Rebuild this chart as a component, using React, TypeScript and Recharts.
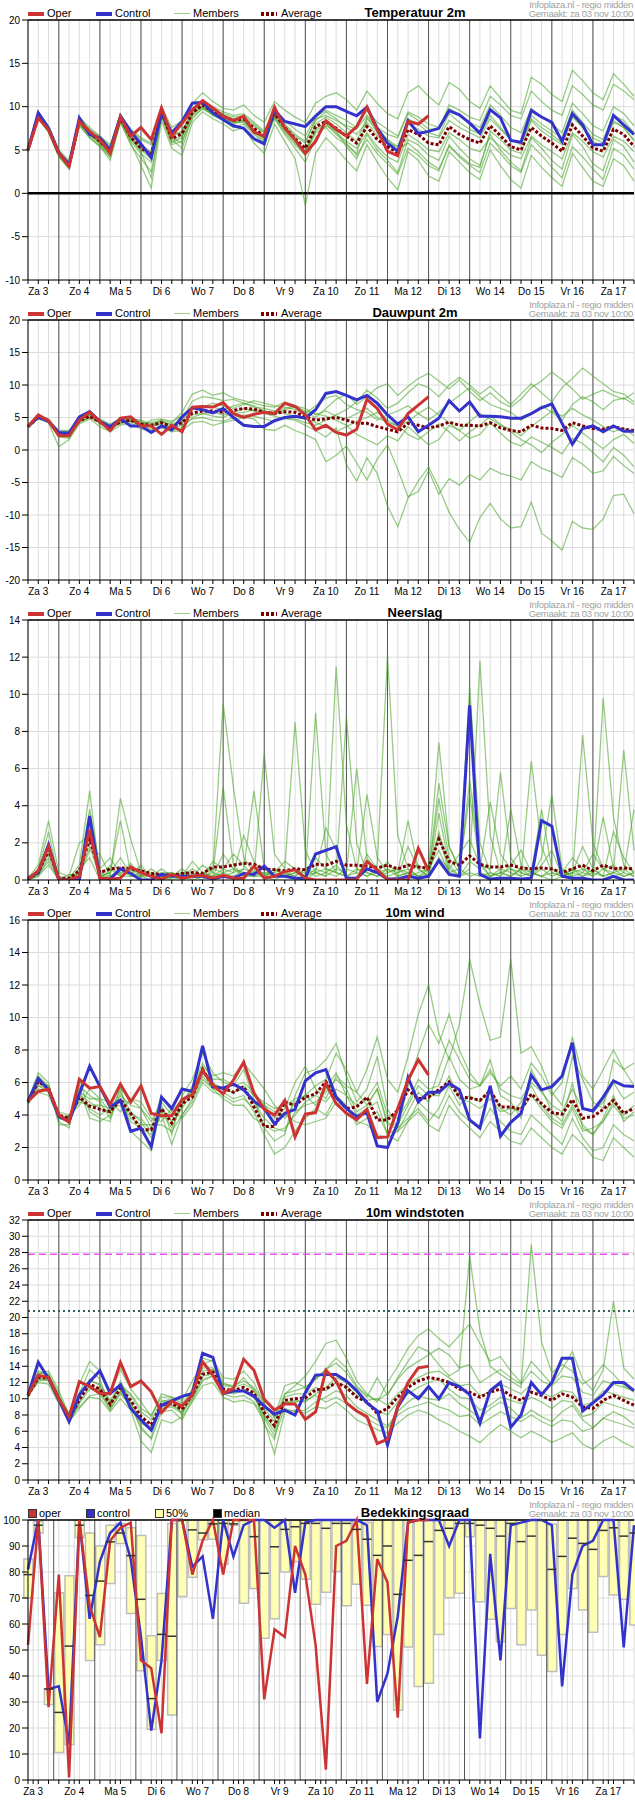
import React from 'react';
import { ComposedChart, Line, Bar, Scatter, XAxis, YAxis, CartesianGrid, ReferenceLine } from 'recharts';

const FONT = '"Liberation Sans", Arial, Helvetica, sans-serif';
const RED = '#cc3333';
const BLUE = '#3333cc';
const AVG = '#7a0000';
const MEMBER = '#44a222';

// ---- time axis (6-hourly steps starting Za 3 06:00) ----
const DAYS = ['Za 3', 'Zo 4', 'Ma 5', 'Di 6', 'Wo 7', 'Do 8', 'Vr 9', 'Za 10', 'Zo 11', 'Ma 12', 'Di 13', 'Wo 14', 'Do 15', 'Vr 16', 'Za 17'];
const SLOTS = Array.from({ length: 60 }, (_, i) => i);

// ---- Temperatuur 2m ----
const T_OPER = [5.0,8.7,7.35,4.65,3.1,8.3,7.15,6.2,4.65,8.8, 6.6,7.6,6.2,9.85,6.6,8.1,9.65,10.7,9.85,8.9, 8.4,8.9,7.05,6.6,9.95,7.5,6.2,4.6,6.0,8.4, 7.4,6.6,7.7,9.95,7.35,4.85,4.35,8.3,8.0,8.95];
const T_CONTROL = [5.0,9.3,7.5,4.7,3.3,8.7,6.8,6.4,5.0,8.9, 7.15,5.7,4.1,9.3,7.0,8.3,10.4,10.5,9.3,8.5, 7.8,7.5,6.3,5.7,9.6,8.3,8.0,7.7,8.9,10.0, 10.0,9.45,8.95,9.95,7.5,5.8,4.85,8.4,6.9,7.15, 7.5,9.55,9.05,8.1,6.95,9.65,8.7,6.1,5.9,9.55, 8.8,8.2,6.0,9.2,7.9,5.6,5.6,9.0,7.9,6.8];
const T_AVG = [5.0,9.0,7.4,4.6,3.3,8.3,7.0,6.0,4.9,8.7, 6.5,5.2,4.5,9.4,6.3,6.9,9.3,10.2,9.4,8.9, 8.4,8.6,7.5,6.6,9.2,7.6,6.3,5.2,7.7,8.3, 7.5,6.6,5.8,7.7,6.2,5.4,4.65,7.35,6.8,5.8, 5.6,7.7,6.8,6.2,5.8,7.8,6.65,5.4,5.0,7.6, 6.6,5.8,4.85,7.9,6.6,5.25,4.85,7.4,6.8,5.4];
const T_M1 = [4.8,8.6,7.0,4.2,2.8,7.9,6.4,5.4,4.2,8.2, 5.6,4.0,2.5,8.8,5.6,6.0,8.6,9.8,9.0,8.4, 7.6,8.0,6.8,5.8,8.6,6.8,5.2,3.6,6.4,7.8, 7.2,5.4,4.0,6.8,5.0,3.8,2.4,6.2,5.6,4.4, 3.8,6.6,5.2,4.0,3.2,6.8,5.0,3.6,2.6,6.4, 5.2,3.8,2.8,6.8,5.4,3.4,2.6,6.2,5.4,3.6];
const T_M2 = [5.1,9.4,7.8,5.0,3.8,8.8,7.6,6.6,5.4,9.2, 7.2,6.2,5.6,9.8,7.0,7.8,9.8,10.8,10.0,9.4, 9.0,9.2,8.2,7.2,9.8,8.4,7.4,6.6,8.8,9.6, 9.0,8.4,7.6,9.6,8.2,7.4,6.6,9.4,8.8,8.0, 7.6,9.8,9.0,8.2,7.6,10.2,9.0,7.6,7.0,9.8, 8.8,8.0,7.0,10.4,9.2,7.8,7.2,10.0,9.2,7.8];
const T_M3 = [5.0,8.8,7.2,4.4,3.0,8.0,6.8,5.8,4.6,8.4, 6.0,4.6,3.6,9.0,5.8,6.4,9.0,10.0,9.2,8.6, 8.2,8.2,7.0,6.0,8.8,7.0,5.6,4.4,7.0,7.6, 6.4,5.6,4.6,8.6,7.6,6.2,5.0,5.8,4.8,3.6, 2.8,5.4,4.4,3.4,3.0,7.2,6.2,5.0,4.6,8.6, 7.6,6.8,5.8,9.0,7.6,6.0,5.4,8.4,7.6,6.0];
const T_M4 = [5.0,9.2,7.6,4.8,3.4,8.5,7.2,6.2,5.0,8.9, 6.8,5.6,4.8,9.5,6.6,7.2,9.5,10.4,9.6,9.2, 8.8,9.0,8.0,7.0,9.6,8.0,6.8,6.0,8.4,9.4, 8.6,7.6,6.8,8.2,6.6,5.8,5.4,8.6,8.0,7.0, 6.6,9.2,8.2,7.4,6.8,9.0,7.6,6.2,5.6,9.0, 8.0,7.2,6.4,9.6,8.2,6.8,6.2,9.0,8.4,7.0];
const T_M5 = [4.9,8.8,7.3,4.5,3.1,8.1,6.6,5.6,4.4,8.5, 6.2,5.0,4.0,9.2,6.0,6.6,9.2,10.0,9.0,8.6, 8.0,8.4,7.2,6.2,8.8,7.2,5.8,4.8,7.2,8.0, 6.8,5.8,4.4,6.2,4.6,3.4,2.2,5.2,4.4,3.2, 2.6,5.6,4.2,3.2,2.4,5.8,4.6,3.2,2.4,5.6, 4.4,3.0,1.8,5.4,4.2,2.8,1.6,5.2,4.4,2.8];
const T_M6 = [5.0,9.1,7.5,4.7,3.5,8.4,7.1,6.1,5.2,8.8, 6.6,5.4,4.6,9.6,6.8,7.0,9.4,10.6,9.8,9.0, 8.6,8.8,7.8,7.0,9.4,7.8,6.6,5.8,8.6,9.0, 8.4,7.8,7.4,9.0,7.6,6.8,6.4,9.2,8.4,7.4, 7.4,10.2,9.6,8.8,8.4,11.2,10.2,9.0,8.6,11.8, 10.6,9.6,9.0,12.4,11.4,10.2,9.6,12.6,11.8,10.8];
const T_M7 = [5.0,8.9,7.2,4.4,3.2,8.2,6.8,5.8,4.2,8.6, 6.4,4.8,1.8,9.0,6.2,5.2,8.8,9.8,9.2,8.8, 8.2,8.4,7.0,6.4,9.0,7.4,6.0,4.4,7.4,8.2, 7.0,6.0,5.2,7.0,5.4,4.2,3.6,6.8,6.0,5.0, 4.8,7.0,6.2,5.2,4.8,6.4,5.4,4.4,4.0,6.6, 5.6,4.8,4.0,7.0,6.0,4.8,4.2,6.6,6.0,4.8];
const T_M8 = [5.0,9.0,7.4,4.6,3.3,8.3,6.9,5.9,4.8,8.7, 6.4,5.2,4.4,9.4,6.4,5.8,9.3,10.2,9.4,8.9, 8.4,8.6,7.4,6.4,9.2,7.6,6.2,4.8,8.0,8.8, 8.0,7.0,6.0,8.8,7.0,6.2,5.4,8.0,7.4,6.6, 6.4,8.4,7.6,7.0,6.4,8.6,7.4,6.2,5.8,8.4, 7.2,6.4,5.6,8.8,7.6,6.4,5.8,8.2,7.6,6.2];
const T_M9 = [5.0,9.4,7.6,4.8,3.6,8.6,7.4,6.6,5.6,9.0, 7.4,6.4,5.8,10.0,7.6,8.4,10.4,11.6,10.6,9.8, 9.6,10.2,9.0,8.2,10.6,9.6,8.8,8.2,10.4,11.2, 11.6,10.8,9.6,11.8,10.4,9.2,8.6,11.6,12.4,11.2, 10.2,12.8,12.0,10.6,9.8,12.4,11.0,9.6,9.2,13.4, 12.6,11.4,10.6,14.2,13.0,11.6,10.8,13.8,12.6,11.2];
const T_M10 = [4.9,8.7,7.1,4.3,2.9,7.8,6.4,5.4,3.8,8.2, 5.8,3.2,0.6,8.4,5.2,4.4,8.2,9.4,8.6,8.0, 7.2,7.6,5.8,4.6,8.0,6.0,4.0,-1.4,4.6,6.4, 5.2,3.8,2.6,5.6,3.6,1.8,0.4,4.8,3.8,2.0, 1.4,4.8,3.6,2.4,1.6,5.0,3.2,1.6,0.6,4.4, 3.0,1.8,0.8,4.6,3.0,1.4,0.8,4.0,3.2,1.4];

// ---- Dauwpunt 2m ----
const D_OPER = [3.6,5.4,4.5,2.2,2.2,4.6,5.8,4.4,3.0,4.9, 5.1,3.7,3.7,2.4,3.8,2.8,6.6,6.7,6.6,7.3, 5.6,5.0,5.5,5.8,5.6,7.2,6.7,5.4,3.1,3.8, 2.7,2.3,3.2,7.8,6.4,4.0,3.1,5.6,6.9,8.2];
const D_CONTROL = [3.6,5.1,4.4,2.7,2.6,5.1,5.9,4.4,3.6,4.8, 3.7,3.7,2.7,3.7,3.1,5.1,6.5,6.2,5.7,6.4, 5.0,3.8,3.6,3.6,4.5,5.0,5.2,4.9,6.2,8.7, 9.0,8.4,7.7,8.4,7.2,5.4,4.0,5.1,2.8,3.8, 4.9,7.6,6.0,7.4,5.2,5.2,5.1,4.9,4.9,5.6, 6.5,7.1,4.1,0.9,3.3,3.7,2.8,3.7,2.9,2.9];
const D_AVG = [3.6,5.0,4.5,2.5,2.5,4.5,5.2,4.3,3.5,4.3, 4.6,4.0,3.8,4.2,3.6,4.2,5.7,6.0,6.0,5.8, 6.1,6.4,6.3,5.8,5.6,5.9,5.8,5.1,4.6,4.8, 5.0,4.6,4.1,4.1,3.6,3.2,2.8,4.1,3.8,3.4, 3.7,4.3,3.8,3.8,3.7,4.2,3.4,3.0,2.8,3.8, 3.4,3.3,3.0,4.2,3.7,3.3,3.2,3.6,3.2,3.0];
const D_M1 = [3.5,5.3,4.8,2.0,1.8,4.8,5.6,4.0,3.2,4.6, 5.0,4.4,3.6,4.6,3.2,4.8,7.5,8.2,8.0,7.6, 7.8,7.2,6.8,6.0,5.4,6.2,6.6,5.8,5.0,6.4, 7.8,8.6,7.0,8.2,9.6,10.2,8.4,9.8,11.0,11.8, 10.6,9.4,10.8,9.0,7.6,8.8,7.4,6.6,7.8,9.6, 10.6,12.0,10.8,9.4,7.8,8.6,9.2,8.4,7.8,8.8];
const D_M2 = [3.7,4.8,4.2,0.5,1.6,4.0,4.8,3.6,2.8,3.8, 4.2,3.2,3.0,3.4,2.8,3.0,4.2,4.4,3.8,4.2, 4.6,5.0,4.8,3.2,3.0,3.8,3.0,2.4,1.6,-1.8, -0.8,0.6,-2.0,-4.6,-1.4,0.8,-3.0,-7.2,-6.4,-3.2, -6.8,-4.4,-5.4,-3.8,-4.6,-2.8,-3.6,-4.0,-4.6,-1.8, -2.8,-3.4,-4.2,-1.2,-2.2,-3.6,-3.2,-1.0,-2.4,-3.6];
const D_M3 = [3.6,5.1,4.6,2.6,2.4,4.6,5.4,4.6,3.8,4.4, 4.8,4.2,4.2,4.6,4.2,5.8,8.6,9.2,8.4,8.8, 8.0,7.6,7.2,6.8,6.6,7.4,6.8,6.0,5.6,5.2, 4.6,3.8,2.4,1.6,0.8,2.2,1.4,3.6,2.2,0.8, 1.6,3.8,3.0,1.8,2.4,4.2,2.6,1.2,0.6,2.0, 1.2,0.4,-0.6,1.8,1.0,-0.4,-1.8,0.4,-0.8,-2.6];
const D_M4 = [3.6,4.9,4.4,2.8,2.9,4.4,5.0,4.8,4.0,4.8, 4.4,3.8,4.6,4.8,4.4,5.2,6.4,6.6,7.2,6.8, 6.4,7.0,7.6,7.2,6.8,6.6,6.2,5.6,6.8,8.0, 8.4,7.0,6.2,5.8,4.6,5.4,6.0,6.8,5.6,4.6, 5.8,7.2,8.4,9.6,8.2,7.0,6.4,5.8,4.6,5.6, 6.8,5.8,4.6,7.0,8.2,7.4,6.2,7.6,8.0,7.0];
const D_M5 = [3.4,5.2,4.3,2.2,2.0,4.2,5.0,4.2,3.4,4.0, 4.6,3.6,3.2,3.6,3.0,3.4,5.0,5.6,5.2,5.0, 5.8,6.4,6.0,5.6,5.2,4.8,4.6,3.8,3.0,2.0, 3.4,-2.2,-4.8,-1.2,-3.6,-8.6,-11.8,-7.4,-4.8,-2.6, -5.8,-9.6,-12.2,-14.2,-10.4,-8.2,-10.6,-12.0,-11.8,-8.0, -12.8,-14.0,-15.4,-11.0,-12.0,-12.2,-10.6,-7.0,-6.8,-9.8];
const D_M6 = [3.7,5.0,4.6,3.0,3.0,5.0,5.8,4.4,3.6,4.6, 4.4,4.0,3.8,4.2,4.0,4.6,6.2,6.8,6.6,6.2, 6.8,7.2,6.6,6.4,6.0,5.6,5.2,4.8,4.2,3.6, 2.8,3.6,4.4,5.0,5.8,4.6,3.6,4.4,5.6,6.6, 5.4,4.2,3.0,4.4,5.6,4.8,3.8,3.2,2.2,3.6, 4.8,6.0,5.2,6.4,5.4,4.6,3.6,2.8,3.4,2.2];
const D_M7 = [3.6,4.9,4.5,2.4,2.6,4.7,5.3,4.2,3.2,4.2, 4.8,4.6,4.0,4.4,3.8,4.2,5.4,5.6,5.8,5.4, 5.6,5.8,6.2,6.0,5.8,6.4,6.8,6.4,5.4,6.0, 5.2,4.8,5.6,6.4,5.0,4.2,3.8,2.4,1.6,2.8, 4.0,2.8,1.4,2.8,3.8,5.2,4.0,2.8,1.6,0.8, -0.4,1.2,2.4,3.8,2.6,1.4,0.2,1.6,2.4,1.0];
const D_M8 = [3.5,5.0,4.4,2.6,2.2,4.4,5.1,4.4,3.6,4.2, 4.4,4.0,3.6,4.0,3.4,3.8,4.8,5.0,4.6,4.4, 5.0,5.4,5.2,4.8,4.4,5.0,4.8,4.2,3.8,4.6, 5.4,6.2,7.4,9.2,8.0,6.4,7.2,8.8,10.2,9.6, 8.2,10.0,11.2,10.0,8.6,9.8,8.4,7.0,8.6,10.2, 8.8,7.4,9.6,11.0,12.6,11.4,10.2,9.0,8.6,7.4];

// ---- Neerslag ----
const P_OPER = [0.05,0.5,1.8,0,0,0.2,2.7,0.1,0.05,0.1, 0.7,0.4,0.2,0.05,0.3,0.1,0.2,0.25,0.1,0.25, 0.1,0.1,0.75,0.1,0.2,0.45,0.55,0.1,0,0, 0,0,0,1.0,0.55,0,0,0,1.7,0.5];
const P_CONTROL = [0.1,0.4,1.9,0,0,0,3.45,0.1,0.05,0.6, 0.35,0,0,0.3,0.2,0.2,0.2,0.2,0.05,0.2, 0.1,0.35,0.3,0.75,0.2,0.2,0.1,0.1,1.4,1.6, 1.8,0.1,0.1,0.6,0.4,0.05,0.05,0.2,0.1,0.2, 1.05,0.3,0.2,9.4,0.3,0.05,0.1,0.1,0.05,0.1, 3.2,2.9,0.2,0.1,0.1,0,0,0.2,0,0];
const P_AVG = [0.05,0.4,1.6,0.1,0.1,0.5,2.2,0.4,0.6,0.65, 0.6,0.5,0.35,0.3,0.25,0.35,0.4,0.35,0.7,0.7, 0.8,0.9,0.85,0.6,0.55,0.5,0.6,0.55,0.85,0.8, 1.0,0.8,0.8,0.75,0.65,0.8,0.6,0.8,0.7,0.65, 2.2,1.0,0.8,1.3,0.85,0.7,0.7,0.8,0.65,0.6, 0.65,0.6,0.4,0.6,0.8,0.5,0.8,0.6,0.65,0.6];
const P_M1 = [0,0.6,2.6,0,0.1,0.8,4.8,0.2,0.4,1.2, 0.3,0.8,0.1,0,0.1,0.4,0.2,0,0.6,9.5, 5.0,1.2,0.4,0.2,0,0.3,0.1,0,0.4,2.8, 1.6,0.2,0,1.4,0.6,0,0.2,0.4,0,0.3, 5.2,1.8,0.6,10.4,2.0,0.4,0.2,0.8,1.6,0.4, 0.2,0,0.2,0.4,1.8,0.6,0.2,2.6,1.2,0.4];
const P_M2 = [0.1,0.3,1.4,0.2,0,0.4,3.8,0.6,1.2,0.3, 0.9,0.2,0.6,0.2,0,0.2,1.0,0.4,0.2,0.6, 1.4,0.8,0.2,6.8,1.4,0.6,8.5,1.6,0.4,0.2, 11.5,3.0,0.6,0.2,0.4,1.0,0.2,1.8,0.6,0.2, 3.6,0.8,0.2,0.6,11.8,2.4,0.4,0.2,0.6,0.2, 0.8,1.6,0.2,0.4,0.6,0.2,9.8,3.4,0.8,0.4];
const P_M3 = [0,0.2,1.2,0,0.3,0.2,1.6,1.4,0.2,4.4, 2.2,0.4,0.2,0.6,0.2,0,0.2,0.8,0.4,0.2, 0.4,2.4,1.0,0.2,0.6,0.2,0.4,0.2,9.0,1.4, 0.4,0.2,0,0.6,0.8,12.1,2.4,0.6,0.2,0.4, 2.6,0.6,1.4,2.2,0.8,0.6,5.8,1.2,0.4,0.2, 1.2,4.6,0.6,0.2,7.8,2.0,0.6,0.2,0.4,3.8];
const P_M4 = [0,0.5,2.0,0,0,0.6,1.2,0,0.6,0.2, 0.4,0.6,0.2,0.4,0.4,0.2,0.6,0.2,1.0,0.6, 0.4,0.6,4.8,0.6,0.2,0.4,0.2,0.6,0.4,0.2, 0.6,0.4,6.0,1.2,0.4,0.6,0.2,0.4,0.8,0.4, 4.4,1.2,0.4,5.4,1.0,0.2,0.6,0.4,0.2,6.4, 1.8,0.4,0.2,0.6,0.4,0.2,0.6,0.8,0.4,0.2];
const P_M5 = [0.1,0.8,3.2,0.4,0.2,2.0,2.4,0.4,0.2,0.6, 0.2,0.2,0.4,0.2,0.2,0.6,0.2,0.4,0.2,1.4, 0.6,0.2,0.4,0.2,0.4,1.0,0.6,0.2,0.6,0.4, 0.2,0.6,0.4,4.6,1.2,0.4,0.6,0.2,0.4,0.6, 1.6,0.4,0.2,1.0,0.6,4.2,1.4,0.6,0.4,0.2, 0.6,0.2,0.4,1.2,0.6,0.4,3.4,0.6,0.2,0.4];
const P_M6 = [0,0.2,0.8,0,0.1,0.2,3.0,0.2,0.2,0.4, 0.6,0.2,0,0.2,0.4,0.2,0.1,0.4,0.6,0.4, 0.2,0.6,0.4,0.4,0.2,0.2,0.4,0.4,1.2,0.6, 0.4,8.8,2.0,0.4,0.2,0.4,0.6,0.4,0.2,0.2, 1.2,0.6,0.2,0.4,0.2,0.4,0.2,3.8,0.8,0.4, 0.2,0.6,0.4,0.2,0.4,1.4,0.6,0.4,7.0,1.6];
const P_M7 = [0,0.4,1.8,0.2,0,0.3,1.8,0.2,0.8,0.2, 0.2,0.4,0.2,0.2,0.2,0.4,0.4,0.2,0.2,0.4, 0.6,0.4,0.2,0.2,0.6,0.4,0.2,0.6,0.2,0.4, 0.8,0.2,0.4,0.2,0.6,0.2,0.4,0.6,0.2,0.6, 7.4,1.8,0.6,0.2,0.4,0.2,0.4,0.6,0.2,0.4, 0.2,0.4,0.2,0.6,0.2,0.4,0.2,0.4,0.6,0.2];
const P_M8 = [0,0.3,1.0,0,0.1,0.4,2.6,0.2,0.4,3.2, 0.4,0.2,0.2,0,0.2,0.2,0,0.2,0.4,5.0, 0.8,0.2,0.2,0.4,0.4,0.2,0.6,0.2,0.4,0.6, 0.4,0.2,0.6,0.4,0.2,0.6,0.4,3.2,0.6,0.2, 2.4,0.4,0.6,4.6,0.8,0.2,0.4,0.2,0.6,0.4, 3.8,0.6,0.2,0.4,0.2,0.6,0.2,0.4,0.2,0.4];

// ---- 10m wind ----
const W_OPER = [4.85,5.45,5.6,4.0,3.55,6.2,5.65,5.75,4.65,5.9, 4.8,5.8,4.1,3.95,3.95,4.95,5.25,6.75,5.85,5.3, 6.15,7.25,5.35,4.35,4.0,4.9,2.65,4.05,4.15,5.95, 4.7,4.1,3.7,4.35,2.6,2.65,4.4,6.15,7.4,6.45];
const W_CONTROL = [4.85,6.25,5.55,3.9,3.6,5.3,7.0,5.75,4.5,4.9, 3.0,3.2,2.05,5.1,4.4,5.6,5.45,8.25,5.75,5.65, 5.9,5.55,4.85,4.4,3.45,4.1,4.35,6.1,6.6,6.8, 5.1,4.4,3.9,4.15,2.1,2.0,3.5,6.3,4.8,5.4, 5.4,5.95,5.55,3.7,3.2,5.8,2.7,3.55,4.1,6.45, 5.55,5.75,6.4,8.45,4.4,4.25,5.1,6.1,5.8,5.75];
const W_AVG = [4.8,6.05,5.65,4.0,3.8,5.1,4.55,4.35,4.2,4.95, 4.1,3.1,3.1,4.4,3.5,4.7,5.1,6.8,5.75,5.65, 5.4,5.75,4.5,3.3,3.3,4.8,4.6,5.1,5.3,6.05, 5.1,4.4,4.5,5.1,3.7,3.7,4.3,5.55,5.0,5.1, 5.55,6.05,5.1,5.05,4.9,5.5,4.5,4.5,4.35,5.3, 4.7,4.15,4.05,4.95,3.8,3.9,4.35,4.9,4.1,4.4];
const W_M1 = [4.8,6.4,5.8,3.6,3.2,6.2,4.2,3.8,3.6,5.8, 3.0,2.4,1.8,4.6,2.8,5.2,6.2,7.8,6.6,6.0, 5.8,6.8,5.0,3.2,2.4,2.8,5.2,6.6,6.8,7.4, 8.4,6.4,4.8,5.6,7.6,4.4,3.2,5.8,7.8,9.6, 8.4,10.2,8.0,6.6,5.8,7.4,5.2,4.8,3.8,6.8, 5.6,4.2,3.6,6.0,3.2,2.8,3.8,5.2,3.6,4.2];
const W_M2 = [4.7,5.6,5.4,4.2,4.0,4.6,5.6,5.0,4.8,4.2, 5.0,4.8,3.8,3.6,4.4,3.8,4.6,6.0,5.4,5.2, 4.8,5.0,4.4,4.6,4.2,4.0,3.6,3.4,3.6,3.8, 4.8,4.4,3.6,3.4,2.8,2.6,3.0,3.6,4.2,3.4, 3.0,4.6,3.8,3.2,2.6,3.6,3.0,2.4,2.2,3.2, 2.6,2.0,1.6,2.8,2.2,1.4,1.2,2.6,2.0,1.4];
const W_M3 = [4.9,6.0,5.8,3.8,3.8,5.8,5.2,4.8,3.8,5.4, 4.2,3.6,2.6,4.2,3.2,4.6,5.8,7.2,6.2,6.2, 5.8,6.0,5.4,4.6,3.8,4.4,6.0,7.0,5.6,5.0, 6.4,5.8,5.4,6.8,8.8,6.2,5.4,7.6,10.2,12.0, 9.0,7.4,9.6,13.6,10.8,8.6,8.8,13.6,7.8,8.2, 7.0,5.4,4.6,7.6,6.2,4.8,4.4,7.4,6.8,5.8];
const W_M4 = [4.8,5.8,5.4,4.0,3.6,5.0,4.4,4.0,4.4,4.6, 3.6,3.2,2.8,4.0,2.2,4.0,5.0,6.4,5.6,5.4, 5.0,5.2,4.2,2.8,1.6,2.0,3.0,3.8,4.4,4.0, 5.2,4.6,3.4,3.8,4.2,2.8,2.4,3.6,4.8,4.2, 3.8,5.2,4.2,3.6,3.2,4.4,3.6,3.0,2.8,4.0, 3.4,2.8,2.2,3.8,2.6,1.8,2.0,3.4,2.8,2.4];
const W_M5 = [4.9,6.6,6.0,3.4,3.4,5.6,3.8,3.6,4.0,5.2, 4.6,4.4,3.6,4.8,4.0,4.8,5.6,7.0,6.4,6.6, 6.4,7.2,6.4,5.6,4.6,3.8,4.8,5.2,5.8,6.2, 7.8,6.8,5.4,4.6,5.6,3.6,3.0,4.2,5.4,4.8, 6.8,8.6,7.4,6.2,5.8,6.6,5.8,6.4,5.6,7.2, 6.4,5.2,6.0,8.8,6.4,5.6,6.8,8.0,6.8,7.2];
const W_M6 = [4.8,5.4,5.2,3.8,4.0,4.8,4.6,4.6,4.4,4.8, 3.8,3.4,3.4,3.4,3.0,4.0,4.8,6.2,5.6,5.0, 4.6,4.6,3.8,3.4,3.0,3.2,4.0,4.8,5.2,4.8, 5.6,5.2,4.0,4.4,4.8,2.8,3.2,3.8,4.4,3.6, 4.4,5.8,4.6,5.2,4.8,5.6,4.4,4.0,4.8,5.8, 4.6,3.8,3.4,4.6,3.4,2.8,3.6,4.8,4.0,4.6];
const W_M7 = [4.7,5.8,5.6,4.0,3.8,5.4,5.0,5.0,4.2,5.6, 5.0,4.4,3.2,5.2,4.2,5.0,5.4,6.8,6.0,5.6, 5.4,5.8,5.2,4.8,4.4,4.6,5.0,5.2,4.6,5.6, 6.6,5.2,4.6,5.0,6.0,4.0,3.8,4.8,6.2,5.6, 5.8,7.6,6.2,5.6,5.8,6.8,5.6,5.2,5.0,6.0, 5.4,4.6,4.2,5.6,4.4,4.2,4.8,6.0,5.0,5.4];
const W_M8 = [4.8,6.0,5.6,3.8,3.6,5.2,4.8,4.4,4.2,5.0, 4.0,3.8,3.0,4.4,3.6,4.4,5.4,6.6,5.8,5.6, 5.4,5.6,4.8,3.8,3.2,3.0,4.2,4.6,4.8,5.4, 6.2,5.6,4.2,4.6,5.6,3.4,3.4,4.6,5.8,5.2, 5.2,6.4,5.0,4.8,4.4,5.0,4.2,4.4,4.2,5.2, 4.4,3.6,3.2,4.4,3.0,3.2,3.6,4.6,3.8,4.0];

// ---- 10m windstoten ----
const G_OPER = [10.45,12.9,12.6,10.0,7.8,12.1,11.5,10.65,10.65,14.45, 11.5,12.2,10.85,8.3,9.7,9.1,10.45,14.55,12.9,10.65, 11.25,14.85,13.5,9.95,8.6,9.35,9.35,7.45,8.4,13.5, 12.2,9.5,8.5,7.8,4.5,5.0,9.0,12.0,13.8,14.0];
const G_CONTROL = [10.45,14.5,12.5,9.85,7.2,10.45,12.1,13.45,10.65,11.7, 8.8,7.4,6.15,9.2,9.75,10.3,10.65,15.6,15.1,10.65, 10.95,10.95,10.3,9.1,8.1,8.6,8.0,10.75,12.9,13.0, 13.0,12.2,11.0,9.5,8.5,4.3,9.0,11.0,10.0,11.5, 10.0,12.0,11.5,10.5,7.0,11.0,12.0,6.5,8.0,12.0, 10.5,12.0,15.0,15.0,8.5,9.5,10.5,12.0,12.0,11.0];
const G_AVG = [10.4,12.6,12.6,10.0,7.5,9.9,11.8,11.2,9.3,11.3, 9.8,7.8,6.8,9.3,9.4,8.7,10.5,13.0,13.3,11.2, 11.0,11.4,10.7,8.3,6.7,9.8,10.0,10.1,11.1,11.2, 12.0,11.4,10.2,9.6,8.2,8.8,10.2,11.4,12.2,12.6, 12.4,12.0,11.2,10.8,10.2,10.8,11.2,10.4,9.8,10.8, 10.4,9.8,10.6,10.2,9.0,8.8,9.8,10.4,9.8,9.2];
const G_M1 = [10.2,13.4,13.0,10.6,7.0,10.6,13.6,12.4,9.0,12.2, 9.4,6.2,5.2,9.6,10.0,8.0,11.4,15.0,14.6,12.0, 11.4,12.6,11.0,6.8,5.0,10.6,11.6,12.8,14.6,16.8, 17.2,15.0,12.2,10.6,9.6,12.0,14.0,16.2,17.8,18.6, 17.4,16.4,17.8,19.2,16.8,14.6,15.2,13.4,12.0,14.6, 13.2,11.8,13.6,15.8,12.4,11.0,13.6,22.0,13.8,12.4];
const G_M2 = [10.6,12.0,11.8,9.4,8.2,9.0,10.2,10.0,8.4,10.0, 8.6,4.8,3.4,7.4,7.0,7.8,9.6,11.6,12.0,10.2, 9.6,9.8,9.4,7.2,3.2,8.4,8.6,8.2,9.0,8.8, 9.6,8.6,7.4,6.8,6.2,5.8,7.0,8.0,8.6,8.2, 7.4,6.8,6.0,5.4,4.6,5.8,6.8,6.0,5.2,6.0, 5.4,4.6,5.2,5.8,4.4,3.8,4.8,5.4,4.6,4.0];
const G_M3 = [10.4,13.0,13.4,11.0,8.0,11.8,14.6,13.4,10.6,13.6, 11.2,9.6,7.8,10.6,10.2,9.8,12.2,14.2,14.8,12.6, 12.4,13.4,12.0,9.4,7.8,11.6,12.0,11.4,12.4,13.6, 14.4,13.2,11.4,10.2,12.6,10.4,12.6,14.6,16.4,15.8, 14.2,12.8,13.6,27.6,18.4,14.0,13.0,12.2,11.4,29.0, 17.0,13.2,14.2,13.4,11.8,12.6,14.2,13.0,11.6,10.8];
const G_M4 = [10.3,12.2,12.4,9.8,7.2,8.8,10.4,10.6,8.6,10.8, 9.0,6.6,5.0,8.4,8.6,7.4,9.8,12.2,12.8,10.6, 10.2,10.4,9.6,7.6,5.4,8.8,8.4,8.6,9.6,10.2, 11.0,10.4,9.0,8.2,7.4,6.6,8.4,9.6,10.4,10.0, 9.8,10.6,9.4,8.6,7.6,8.8,9.6,8.8,7.6,8.6, 7.8,7.2,8.4,9.2,7.4,6.4,7.6,8.4,7.8,6.8];
const G_M5 = [10.5,12.8,12.8,10.2,7.6,10.4,12.4,11.6,9.6,11.6, 10.4,8.4,7.4,9.8,9.6,9.0,10.8,13.4,13.6,11.6, 11.4,11.8,11.2,8.8,7.2,10.2,10.6,10.6,11.4,11.0, 12.0,11.6,10.4,9.8,10.0,9.2,10.6,11.8,12.6,13.2, 13.4,12.6,11.6,11.8,10.4,10.8,11.8,11.2,10.6,11.8, 10.8,10.2,11.0,10.8,9.2,9.6,11.0,10.6,10.2,9.8];
const G_M6 = [10.2,12.4,12.2,9.6,7.0,9.4,11.2,10.8,8.8,10.6, 9.2,7.0,6.2,8.8,9.0,8.2,10.0,12.4,12.8,10.8, 10.6,11.0,10.2,7.8,6.0,9.4,9.8,9.6,10.6,11.4, 12.6,12.0,10.8,9.4,8.6,8.0,9.6,10.6,11.4,12.0, 12.4,11.2,10.2,10.0,8.6,9.2,10.2,9.8,9.4,10.2, 9.6,8.8,9.8,9.6,7.8,8.2,9.6,9.2,8.8,8.4];
const G_M7 = [10.6,13.2,13.0,10.4,8.2,10.8,12.2,11.8,9.8,11.8, 10.6,8.8,8.0,10.2,10.2,9.4,11.0,13.8,13.8,11.8, 11.6,12.2,11.4,9.4,7.6,10.6,11.0,11.4,12.4,13.6, 15.0,13.8,11.6,10.4,9.8,10.6,12.4,13.8,14.6,15.4, 16.2,15.4,13.8,14.2,12.0,12.8,13.6,12.6,11.8,13.4, 12.2,11.6,12.8,12.6,10.8,10.4,12.2,11.8,11.4,11.0];
const G_M8 = [10.4,12.6,12.4,9.8,7.4,9.6,11.6,11.0,9.2,11.0, 9.6,7.4,6.4,9.0,9.2,8.4,10.2,12.8,13.0,11.0, 10.8,11.2,10.4,8.0,6.4,9.6,9.6,9.8,10.4,9.6, 10.2,9.4,8.4,7.6,6.8,6.4,8.0,8.8,9.2,9.6, 9.0,8.6,7.8,8.0,6.8,7.6,8.4,7.8,7.2,8.0, 7.2,6.6,7.4,7.2,6.0,6.4,7.6,7.2,6.8,6.4];
const GUST_HIGH = 27.8;
const GUST_LOW = 20.8;

// ---- Bedekkingsgraad ----
const C_LOW = [70,95,29,10.6,13.7,93.3,46,52,75.6,91, 64,42,19.5,46,25,70.6,78,92.4,92.6,83, 98,68,73.7,54.5,62,80,84,77.2,67.6,72.2, 80.2,67,75.3,67.2,51.3,56,26.8,51.2,36,37.2, 56,70.1,71.8,93.6,68.6,61.8,53.2,66,52,65.4, 48,41.7,56,73.7,65.4,56.8,78.3,71.2,69.5,59.6];
const C_HIGH = [85,99.4,35,72,78.6,100,95,90,98,98.7, 97,94,55.5,71.7,98.7,100,100,100,100,100, 100,100,100,100,100,100,100,100,100,100, 100,100,100,99,100,100,100,100,100,100, 100,100,100,100,100,100,100,100,100,100, 100,98.5,100,100,100,100,100,100,100,100];
const C_MEDIAN = [79,98,35,26,51.5,98,71,76.5,91.6,95, 86.3,69.5,31.3,56,55.3,100,96.2,95,98.5,98.7, 98.5,100,93.6,79.5,89.7,96.4,97.4,98.7,98.7,96.8, 98.7,98.7,96.4,92.6,86.4,90,71.4,84.5,86.4,91.7, 96,96.8,98.7,98.7,98,96.8,93.8,98.7,91.7,93.8, 100,81,86,93,91,88.7,96,97,93.8,95];
const C_OPER = [52,100,28,79,1,100,67,55,92,97, 99,46,43,18,100,100,79,92,100,79, 100,100,100,31,58,55,90,79,52,4, 90,92,100,37,85,76,24,99,100,100];
const C_CONTROL = [81,100,35,36,14,100,62,84,95,99, 85,55,19,46,100,100,82,86,62,100, 86,98,100,100,97,100,72,99,100,100, 100,100,100,98,30,41,63,99,100,100, 100,90,100,100,16,87,46,98,99,100, 100,98,36,79,90,92,100,100,51,98];

const LINE_DAY_LINES = DAYS.slice(1).map((_, k) => 3 + 4 * k);
const CLOUD_DAY_LINES = DAYS.slice(1).map((_, k) => 2.5 + 4 * k);

const lineTickLabel = (v: number) => ((v - 1) % 4 === 0 ? DAYS[(v - 1) / 4] ?? '' : '');
const cloudTicks = [...SLOTS, ...DAYS.map((_, k) => 0.5 + 4 * k)].sort((a, b) => a - b);
const cloudTickLabel = (v: number) => (Number.isInteger(v) ? '' : DAYS[(v - 0.5) / 4] ?? '');

const AX_TICK = { fontSize: 10, fill: '#000', fontFamily: FONT };
const txt: React.CSSProperties = { position: 'absolute', top: 6, fontSize: 11, lineHeight: '14px', fontFamily: FONT, color: '#000', whiteSpace: 'nowrap' };
const info: React.CSSProperties = { position: 'absolute', right: 2, fontFamily: FONT, fontSize: 9.5, lineHeight: '10px', letterSpacing: -0.3, color: '#a0a0a0', whiteSpace: 'nowrap' };

function Header({ title }: { title: string }) {
  return (
    <>
      <div style={{ position: 'absolute', left: 315, width: 200, top: 5, textAlign: 'center', fontFamily: FONT, fontWeight: 'bold', fontSize: 13, lineHeight: '16px', color: '#000' }}>{title}</div>
      <div style={{ ...info, top: 0 }}>Infoplaza.nl - regio midden</div>
      <div style={{ ...info, top: 9 }}>Gemaakt: za 03 nov 10:00</div>
    </>
  );
}

function LineLegend({ title }: { title: string }) {
  return (
    <>
      <div style={{ position: 'absolute', left: 28, top: 12, width: 16, height: 4, background: RED }} />
      <span style={{ ...txt, left: 47 }}>Oper</span>
      <div style={{ position: 'absolute', left: 96, top: 12, width: 16, height: 4, background: BLUE }} />
      <span style={{ ...txt, left: 115 }}>Control</span>
      <div style={{ position: 'absolute', left: 174, top: 13, width: 16, height: 1, background: '#9ccf86' }} />
      <span style={{ ...txt, left: 193 }}>Members</span>
      <div style={{ position: 'absolute', left: 261, top: 12, width: 16, height: 4, backgroundImage: `repeating-linear-gradient(90deg, ${AVG} 0 3px, transparent 3px 5px)` }} />
      <span style={{ ...txt, left: 281 }}>Average</span>
      <Header title={title} />
    </>
  );
}

type Threshold = { y: number; color: string; dash: string; width: number };

function LinePanel(props: {
  top: number; title: string; yMin: number; yMax: number; yStep: number;
  oper: number[]; control: number[]; avg: number[]; members: number[][];
  zeroLine?: boolean; thresholds?: Threshold[];
}) {
  const { top, title, yMin, yMax, yStep, oper, control, avg, members, zeroLine, thresholds } = props;
  const rows = SLOTS.map((i) => {
    const r: Record<string, number | null> = { i, oper: oper[i] ?? null, control: control[i] ?? null, avg: avg[i] ?? null };
    members.forEach((m, k) => { r['m' + k] = m[i] ?? null; });
    return r;
  });
  const yTicks: number[] = [];
  for (let v = yMin; v <= yMax; v += yStep) yTicks.push(v);
  return (
    <div style={{ position: 'absolute', left: 0, top, width: 635, height: 300 }}>
      <ComposedChart width={635} height={300} data={rows} margin={{ top: 20, right: 1, bottom: 0, left: 0 }}>
        <CartesianGrid stroke="#dcdcdc" />
        <XAxis dataKey="i" type="number" domain={[0, 59]} ticks={SLOTS} interval={0} tickFormatter={lineTickLabel}
          tickSize={4} tickMargin={4} height={20} tick={AX_TICK} stroke="#000" />
        <YAxis type="number" domain={[yMin, yMax]} ticks={yTicks} interval={0} width={28} tickSize={6}
          tick={AX_TICK} stroke="#000" allowDataOverflow />
        {LINE_DAY_LINES.map((x) => <ReferenceLine key={'d' + x} x={x} stroke="#555" strokeWidth={1} />)}
        <ReferenceLine y={yMax} stroke="#000" strokeWidth={1.5} />
        {zeroLine && <ReferenceLine y={0} stroke="#000" strokeWidth={2.5} />}
        {(thresholds || []).map((t) => (
          <ReferenceLine key={'t' + t.y} y={t.y} stroke={t.color} strokeDasharray={t.dash} strokeWidth={t.width} />
        ))}
        {members.map((_, k) => (
          <Line key={'m' + k} dataKey={'m' + k} type="linear" stroke={MEMBER} strokeOpacity={0.55} strokeWidth={1.3}
            dot={false} activeDot={false} isAnimationActive={false} />
        ))}
        <Line dataKey="avg" type="linear" stroke={AVG} strokeWidth={3} strokeDasharray="3 2" dot={false} activeDot={false} isAnimationActive={false} />
        <Line dataKey="control" type="linear" stroke={BLUE} strokeWidth={3} dot={false} activeDot={false} isAnimationActive={false} />
        <Line dataKey="oper" type="linear" stroke={RED} strokeWidth={3} dot={false} activeDot={false} isAnimationActive={false} />
      </ComposedChart>
      <LineLegend title={title} />
    </div>
  );
}

const MedianTick = (p: any) => {
  if (p.cx == null || p.cy == null) return <g />;
  return <line x1={p.cx - 4.5} x2={p.cx + 4.5} y1={p.cy} y2={p.cy} stroke="#333" strokeWidth={1.5} />;
};

function CloudPanel({ top }: { top: number }) {
  const rows = SLOTS.map((i) => ({
    i,
    range: [C_LOW[i], C_HIGH[i]],
    median: C_MEDIAN[i],
    oper: C_OPER[i] ?? null,
    control: C_CONTROL[i] ?? null,
  }));
  const yTicks = [0, 10, 20, 30, 40, 50, 60, 70, 80, 90, 100];
  const sq = (left: number, color: string): React.CSSProperties => ({ position: 'absolute', left, top: 9, width: 7, height: 7, background: color, border: '1px solid #333' });
  return (
    <div style={{ position: 'absolute', left: 0, top, width: 635, height: 300 }}>
      <ComposedChart width={635} height={300} data={rows} margin={{ top: 20, right: 1, bottom: 0, left: 0 }}>
        <CartesianGrid stroke="#dcdcdc" />
        <XAxis dataKey="i" type="number" domain={[0, 59]} ticks={cloudTicks} interval={0} tickFormatter={cloudTickLabel}
          tickSize={4} tickMargin={4} height={20} tick={AX_TICK} stroke="#000" />
        <YAxis type="number" domain={[0, 100]} ticks={yTicks} interval={0} width={28} tickSize={6} tick={AX_TICK} stroke="#000" />
        <Bar dataKey="range" barSize={9} fill="#ffffb4" stroke="#bdbdbd" strokeWidth={1.5} isAnimationActive={false} />
        <Scatter dataKey="median" shape={MedianTick} isAnimationActive={false} />
        {CLOUD_DAY_LINES.map((x) => <ReferenceLine key={'d' + x} x={x} stroke="#555" strokeWidth={1} />)}
        <ReferenceLine y={100} stroke="#000" strokeWidth={1.5} />
        <Line dataKey="control" type="linear" stroke={BLUE} strokeWidth={2.5} dot={false} activeDot={false} isAnimationActive={false} />
        <Line dataKey="oper" type="linear" stroke={RED} strokeWidth={2.5} dot={false} activeDot={false} isAnimationActive={false} />
      </ComposedChart>
      <div style={sq(28, RED)} />
      <span style={{ ...txt, left: 39 }}>oper</span>
      <div style={sq(86, BLUE)} />
      <span style={{ ...txt, left: 97 }}>control</span>
      <div style={sq(155, '#ffffaa')} />
      <span style={{ ...txt, left: 166 }}>50%</span>
      <div style={sq(213, '#000')} />
      <span style={{ ...txt, left: 224 }}>median</span>
      <Header title="Bedekkingsgraad" />
    </div>
  );
}

export default function App() {
  return (
    <div style={{ position: 'absolute', left: 0, top: 0, width: 635, height: 1800, background: '#fff', fontFamily: FONT, overflow: 'hidden' }}>
      <LinePanel top={0} title="Temperatuur 2m" yMin={-10} yMax={20} yStep={5} zeroLine
        oper={T_OPER} control={T_CONTROL} avg={T_AVG}
        members={[T_M1, T_M2, T_M3, T_M4, T_M5, T_M6, T_M7, T_M8, T_M9, T_M10]} />
      <LinePanel top={300} title="Dauwpunt 2m" yMin={-20} yMax={20} yStep={5}
        oper={D_OPER} control={D_CONTROL} avg={D_AVG}
        members={[D_M1, D_M2, D_M3, D_M4, D_M5, D_M6, D_M7, D_M8]} />
      <LinePanel top={600} title="Neerslag" yMin={0} yMax={14} yStep={2}
        oper={P_OPER} control={P_CONTROL} avg={P_AVG}
        members={[P_M1, P_M2, P_M3, P_M4, P_M5, P_M6, P_M7, P_M8]} />
      <LinePanel top={900} title="10m wind" yMin={0} yMax={16} yStep={2}
        oper={W_OPER} control={W_CONTROL} avg={W_AVG}
        members={[W_M1, W_M2, W_M3, W_M4, W_M5, W_M6, W_M7, W_M8]} />
      <LinePanel top={1200} title="10m windstoten" yMin={0} yMax={32} yStep={2}
        oper={G_OPER} control={G_CONTROL} avg={G_AVG}
        members={[G_M1, G_M2, G_M3, G_M4, G_M5, G_M6, G_M7, G_M8]}
        thresholds={[
          { y: GUST_HIGH, color: '#f050f0', dash: '7 4', width: 1.5 },
          { y: GUST_LOW, color: '#2f5f5f', dash: '2 3', width: 2 },
        ]} />
      <CloudPanel top={1500} />
    </div>
  );
}
